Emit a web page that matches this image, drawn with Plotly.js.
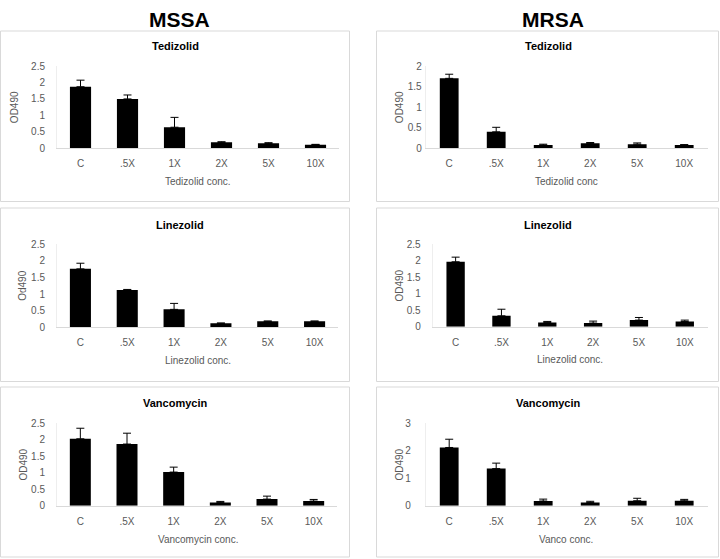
<!DOCTYPE html>
<html>
<head>
<meta charset="utf-8">
<script src="https://cdn.plot.ly/plotly-3.0.1.min.js"></script>
<style>html,body{margin:0;padding:0;background:#fff}#chart{width:720px;height:559px}</style>
</head>
<body>
<div id="chart"></div>
<script>
// ---- data ----
const categories = ['C', '.5X', '1X', '2X', '5X', '10X'];

const mssaTedizolid = [1.87, 1.50, 0.64, 0.18, 0.15, 0.11];
const mssaTedizolidErr = [0.20, 0.12, 0.30, 0.02, 0.02, 0.01];
const mrsaTedizolid = [1.70, 0.40, 0.08, 0.12, 0.10, 0.08];
const mrsaTedizolidErr = [0.10, 0.11, 0.02, 0.02, 0.03, 0.01];

const mssaLinezolid = [1.76, 1.12, 0.54, 0.12, 0.18, 0.18];
const mssaLinezolidErr = [0.17, 0.02, 0.18, 0.01, 0.01, 0.01];
const mrsaLinezolid = [1.97, 0.33, 0.13, 0.11, 0.20, 0.16];
const mrsaLinezolidErr = [0.14, 0.20, 0.03, 0.06, 0.08, 0.04];

const mssaVancomycin = [2.03, 1.87, 1.02, 0.10, 0.20, 0.14];
const mssaVancomycinErr = [0.32, 0.33, 0.15, 0.03, 0.09, 0.05];
const mrsaVancomycin = [2.12, 1.35, 0.17, 0.12, 0.18, 0.18];
const mrsaVancomycinErr = [0.30, 0.20, 0.07, 0.04, 0.09, 0.05];

const panelTitles = ['Tedizolid', 'Tedizolid', 'Linezolid', 'Linezolid', 'Vancomycin', 'Vancomycin'];
const xTitles = ['Tedizolid conc.', 'Tedizolid conc', 'Linezolid conc.', 'Linezolid conc.', 'Vancomycin conc.', 'Vanco conc.'];
const yTitles = ['OD490', 'OD490', 'Od490', 'OD490', 'OD490', 'OD490'];
const groupTitles = ['MSSA', 'MRSA'];

// ---- layout geometry (pixels) ----
const W = 720, H = 559;
const px = v => v / W;
const py = v => 1 - v / H;

const panels = [
  {vals: mssaTedizolid, err: mssaTedizolidErr, x: [57, 339], y: [66, 148.3], range: [0, 2.5], dtick: 0.5, gap: 0.55, ticklenY: 9, box: [0.5, 349.5, 31, 201.5], titleX: 175, titleY: 46, xtX: 198, xtY: 181, ytX: 14},
  {vals: mrsaTedizolid, err: mrsaTedizolidErr, x: [425.7, 707.7], y: [66, 148.3], range: [0, 2], dtick: 0.5, gap: 0.6, ticklenY: 1, box: [376.5, 718.5, 31, 201.5], titleX: 548, titleY: 46, xtX: 566, xtY: 181, ytX: 399},
  {vals: mssaLinezolid, err: mssaLinezolidErr, x: [57, 338], y: [244.3, 327.3], range: [0, 2.5], dtick: 0.5, gap: 0.55, ticklenY: 9, box: [0.5, 349.5, 208, 381.5], titleX: 180, titleY: 225, xtX: 198, xtY: 360, ytX: 23},
  {vals: mrsaLinezolid, err: mrsaLinezolidErr, x: [432.7, 707.7], y: [244.3, 326.7], range: [0, 2.5], dtick: 0.5, gap: 0.6, ticklenY: 9, box: [376.5, 718.5, 208, 381.5], titleX: 548, titleY: 225, xtX: 570, xtY: 359, ytX: 399},
  {vals: mssaVancomycin, err: mssaVancomycinErr, x: [57, 337], y: [423.3, 505.7], range: [0, 2.5], dtick: 0.5, gap: 0.55, ticklenY: 9, box: [0.5, 349.5, 387, 557], titleX: 175, titleY: 403, xtX: 198, xtY: 539, ytX: 23},
  {vals: mrsaVancomycin, err: mrsaVancomycinErr, x: [425.7, 707.7], y: [423.3, 505.7], range: [0, 3], dtick: 1, gap: 0.6, ticklenY: 12, box: [376.5, 718.5, 387, 557], titleX: 548, titleY: 403, xtX: 566, xtY: 539, ytX: 399}
];

const tickFont = {family: 'Liberation Sans, Arial, sans-serif', size: 10, color: '#595959'};
const data = [];
const layout = {
  width: W, height: H,
  margin: {l: 0, r: 0, t: 0, b: 0},
  paper_bgcolor: '#ffffff', plot_bgcolor: 'rgba(0,0,0,0)',
  showlegend: false,
  shapes: [], annotations: []
};

panels.forEach((p, i) => {
  const n = i + 1;
  const xa = n === 1 ? 'x' : 'x' + n;
  const ya = n === 1 ? 'y' : 'y' + n;
  data.push({
    type: 'bar', x: categories, y: p.vals,
    xaxis: xa, yaxis: ya,
    width: categories.map(() => 1 - p.gap),
    marker: {color: '#000000', line: {width: 0}},
    error_y: {type: 'data', symmetric: false, array: p.err, arrayminus: p.err.map(() => 0), color: '#000000', thickness: 1, width: 4},
    hoverinfo: 'x+y'
  });
  layout['xaxis' + (n === 1 ? '' : n)] = {
    domain: [px(p.x[0]), px(p.x[1])], anchor: ya,
    type: 'category', showgrid: false, zeroline: false,
    showline: true, linecolor: '#d9d9d9', linewidth: 1,
    ticks: 'outside', ticklen: 6, tickcolor: 'rgba(0,0,0,0)',
    tickfont: tickFont, fixedrange: true
  };
  layout['yaxis' + (n === 1 ? '' : n)] = {
    domain: [py(p.y[1]), py(p.y[0])], anchor: xa,
    range: p.range, dtick: p.dtick, tick0: 0,
    showgrid: false, zeroline: false,
    showline: true, linecolor: '#eeeeee', linewidth: 1,
    ticks: 'outside', ticklen: p.ticklenY, tickcolor: 'rgba(0,0,0,0)',
    tickfont: tickFont, fixedrange: true
  };
  // panel border
  layout.shapes.push({type: 'rect', xref: 'paper', yref: 'paper',
    x0: px(p.box[0]), x1: px(p.box[1]), y0: py(p.box[3]), y1: py(p.box[2]),
    line: {color: '#d9d9d9', width: 1}, fillcolor: 'rgba(0,0,0,0)', layer: 'below'});
  // panel title
  layout.annotations.push({xref: 'paper', yref: 'paper', x: px(p.titleX), y: py(p.titleY),
    text: '<b>' + panelTitles[i] + '</b>', showarrow: false, xanchor: 'center', yanchor: 'middle',
    font: {family: 'Liberation Sans, Arial, sans-serif', size: 11, color: '#000000'}});
  // x axis title
  layout.annotations.push({xref: 'paper', yref: 'paper', x: px(p.xtX), y: py(p.xtY),
    text: xTitles[i], showarrow: false, xanchor: 'center', yanchor: 'middle',
    font: tickFont});
  // y axis title
  layout.annotations.push({xref: 'paper', yref: 'paper', x: px(p.ytX), y: py((p.y[0] + p.y[1]) / 2),
    text: yTitles[i], showarrow: false, xanchor: 'center', yanchor: 'middle', textangle: -90,
    font: tickFont});
});

// group headers
layout.annotations.push({xref: 'paper', yref: 'paper', x: px(179), y: py(19), text: '<b>' + groupTitles[0] + '</b>',
  showarrow: false, xanchor: 'center', yanchor: 'middle', font: {family: 'Liberation Sans, Arial, sans-serif', size: 21, color: '#000000'}});
layout.annotations.push({xref: 'paper', yref: 'paper', x: px(553), y: py(19), text: '<b>' + groupTitles[1] + '</b>',
  showarrow: false, xanchor: 'center', yanchor: 'middle', font: {family: 'Liberation Sans, Arial, sans-serif', size: 21, color: '#000000'}});

Plotly.newPlot('chart', data, layout, {displayModeBar: false, staticPlot: true});
</script>
</body>
</html>
